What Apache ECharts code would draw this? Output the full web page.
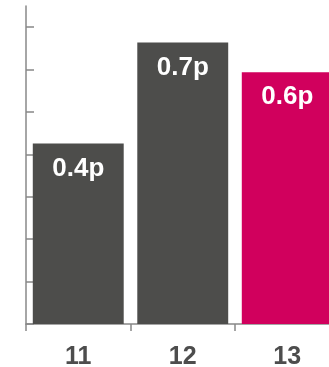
<!DOCTYPE html>
<html>
<head>
<meta charset="utf-8">
<script src="https://cdn.jsdelivr.net/npm/echarts@6/dist/echarts.min.js"></script>
<style>html,body{margin:0;padding:0;background:#fff}#c{width:329px;height:367px}</style>
</head>
<body>
<div id="c"></div>
<script>
var categories = ['11', '12', '13'];
var values = [0.426, 0.664, 0.594];
var labels = ['0.4p', '0.7p', '0.6p'];
var colors = ['#4d4d4b', '#4d4d4b', '#d1005d'];
var yTicks = [0, 0.1, 0.2, 0.3, 0.4, 0.5, 0.6, 0.7];

var chart = echarts.init(document.getElementById('c'), null, {renderer: 'canvas'});
chart.setOption({
  animation: false,
  grid: {left: 26, top: 6, width: 313.5, height: 318, containLabel: false, outerBoundsMode: 'none'},
  xAxis: {
    type: 'category',
    data: categories,
    axisLine: {lineStyle: {color: '#888888', width: 1.5}},
    axisTick: {show: true, length: 7, lineStyle: {color: '#888888', width: 1.5}},
    axisLabel: {color: '#4d4d4d', fontSize: 25, fontWeight: 'bold', fontFamily: 'Liberation Sans, Arial, sans-serif', margin: 21}
  },
  yAxis: {
    type: 'value',
    min: 0,
    max: 0.75,
    interval: 0.1,
    splitLine: {show: false},
    axisLabel: {show: false},
    axisLine: {show: true, lineStyle: {color: '#888888', width: 1.5}},
    axisTick: {show: true, inside: true, length: 8, customValues: yTicks, lineStyle: {color: '#888888', width: 1.5}}
  },
  series: [{
    type: 'bar',
    barCategoryGap: '13%',
    data: values.map(function (v, i) {
      return {value: v, itemStyle: {color: colors[i]}, label: {formatter: labels[i]}};
    }),
    label: {
      show: true,
      position: 'insideTop',
      distance: 12,
      color: '#ffffff',
      fontSize: 26,
      fontWeight: 'bold',
      fontFamily: 'Liberation Sans, Arial, sans-serif'
    }
  }]
});
</script>
</body>
</html>
